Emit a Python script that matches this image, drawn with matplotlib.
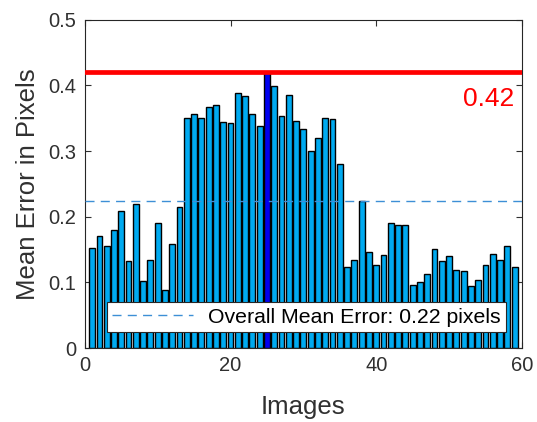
import numpy as np
import matplotlib
matplotlib.use("Agg")
import matplotlib.pyplot as plt

plt.rcParams['font.family'] = ['Liberation Sans', 'DejaVu Sans']

# mean reprojection error per image
images = np.arange(1, 60)
errors = [0.153, 0.171, 0.156, 0.180, 0.209, 0.133, 0.220, 0.102, 0.134, 0.190,
          0.089, 0.159, 0.215, 0.350, 0.356, 0.350, 0.367, 0.371, 0.345, 0.343,
          0.388, 0.384, 0.356, 0.338, 0.420, 0.399, 0.354, 0.385, 0.346, 0.333,
          0.301, 0.320, 0.350, 0.349, 0.281, 0.123, 0.134, 0.224, 0.147, 0.127,
          0.142, 0.190, 0.188, 0.188, 0.096, 0.100, 0.113, 0.151, 0.132, 0.140,
          0.119, 0.117, 0.094, 0.104, 0.127, 0.144, 0.134, 0.155, 0.123]
overall_mean = 0.2236
worst = 25

fig = plt.figure(figsize=(5.37, 4.22), dpi=100)
ax = fig.add_axes([0.158, 0.175, 0.814, 0.778])

colors = ['#0000F0' if i == worst else '#00AAF0' for i in images]
ax.bar(images, errors, width=0.8, color=colors, edgecolor='black', linewidth=1.0, zorder=2)

ax.axhline(overall_mean, color='#3D8FD6', linestyle=(0, (6.5, 4.5)), linewidth=1.0, zorder=3,
           label='Overall Mean Error: 0.22 pixels')
ax.axhline(max(errors), color='#FF0000', linewidth=3.4, zorder=4)
ax.text(59, max(errors) - 0.022, '%.2f' % max(errors), color='#FF0000', fontsize=19,
        ha='right', va='top')

ax.set_xlim(0, 60)
ax.set_ylim(0, 0.5)
ax.set_xticks([0, 20, 40, 60])
ax.set_yticks([0, 0.1, 0.2, 0.3, 0.4, 0.5])
ax.set_yticklabels(['0', '0.1', '0.2', '0.3', '0.4', '0.5'])
ax.tick_params(direction='in', length=4, top=True, right=True, labelsize=14.5,
               colors='#303030', width=0.8, pad=6)
for s in ax.spines.values():
    s.set_color('#262626')
    s.set_linewidth(0.8)

ax.set_xlabel('Images', fontsize=18.5, color='#303030', labelpad=14)
ax.set_ylabel('Mean Error in Pixels', fontsize=18.5, color='#303030', labelpad=6)

leg = ax.legend(loc='lower right', bbox_to_anchor=(0.963, 0.049), borderaxespad=0,
                fontsize=15.3, fancybox=False, framealpha=1, edgecolor='#262626',
                handlelength=3.8, borderpad=0.25, handletextpad=0.7)
leg.get_frame().set_linewidth(0.8)
leg.set_zorder(5)

fig.savefig('out.png', dpi=100)
